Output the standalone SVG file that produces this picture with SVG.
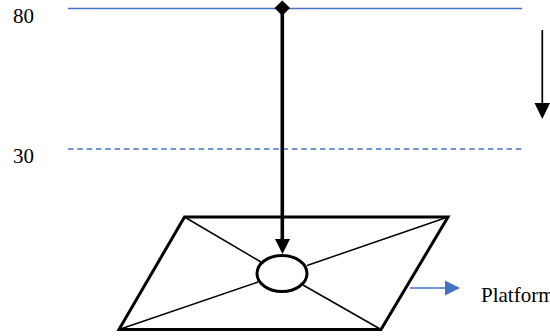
<svg xmlns="http://www.w3.org/2000/svg" width="550" height="336" viewBox="0 0 550 336">
<style>
text{font-family:"Liberation Serif","Times New Roman",serif;font-size:21px;fill:#000}
.b{stroke:#4472C4;stroke-width:1.5;fill:none}
.k{stroke:#000;fill:none}
</style>
<rect width="550" height="336" fill="#fff"/>
<g id="level-80"><line class="b" x1="68" y1="8.5" x2="522" y2="8.5"/><text x="13" y="22.5">80</text></g>
<g id="level-30"><line class="b" x1="68" y1="149" x2="522" y2="149" stroke-dasharray="5.5 3.83"/><text x="13" y="162.5">30</text></g>
<g id="platform">
<polygon class="k" stroke-width="3" stroke-linejoin="miter" points="184.5,217 448,217 381,329.5 119,329.5"/>
<line class="k" stroke-width="1.5" x1="184.5" y1="217" x2="261" y2="262"/>
<line class="k" stroke-width="1.5" x1="448" y1="217" x2="307" y2="265.5"/>
<line class="k" stroke-width="1.5" x1="119" y1="329.5" x2="258" y2="282"/>
<line class="k" stroke-width="1.5" x1="381" y1="329.5" x2="303" y2="285"/>
<ellipse class="k" stroke-width="3" fill="#fff" cx="282" cy="273.5" rx="25" ry="18"/>
</g>
<g id="platform-label"><text x="481" y="301.5">Platform</text></g>
<g id="connectors">
<line class="k" stroke-width="3.6" x1="282.3" y1="8" x2="282.3" y2="241"/>
<polygon fill="#000" points="274.5,8 282.3,0.5 290,8 282.3,15.7"/>
<polygon fill="#000" points="275,239 290,239 282.5,254"/>
<line class="k" stroke-width="1.7" x1="542.3" y1="30" x2="542.3" y2="104"/>
<polygon fill="#000" points="534.5,103 550,103 542.3,119"/>
<line class="b" x1="410" y1="288" x2="446" y2="288"/>
<polygon fill="#4472C4" points="445,280.5 460,288 445,295.5"/>
</g>
</svg>
